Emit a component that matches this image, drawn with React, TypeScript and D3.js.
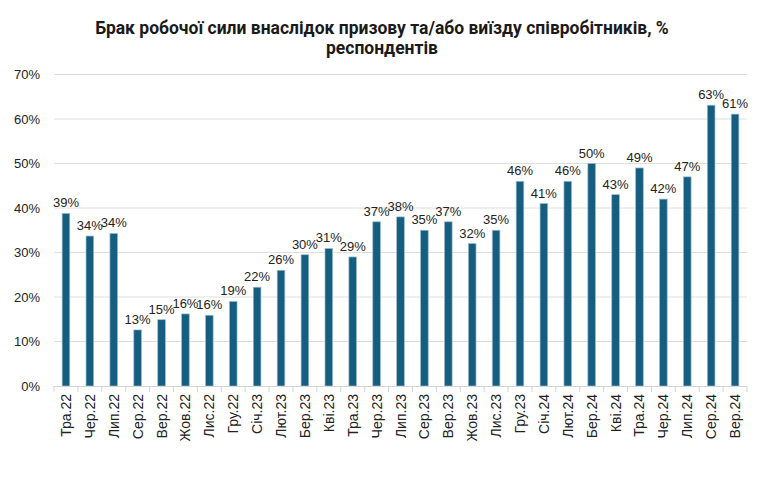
import { useEffect, useRef } from 'react';
import * as d3 from 'd3';

const titleLines = ['Брак робочої сили внаслідок призову та/або виїзду співробітників, %', 'респондентів'];

const months = [
  'Тра.22', 'Чер.22', 'Лип.22', 'Сер.22', 'Вер.22', 'Жов.22', 'Лис.22', 'Гру.22',
  'Січ.23', 'Лют.23', 'Бер.23', 'Кві.23', 'Тра.23', 'Чер.23', 'Лип.23', 'Сер.23',
  'Вер.23', 'Жов.23', 'Лис.23', 'Гру.23', 'Січ.24', 'Лют.24', 'Бер.24', 'Кві.24',
  'Тра.24', 'Чер.24', 'Лип.24', 'Сер.24', 'Вер.24',
];

const shares = [
  38.8, 33.7, 34.3, 12.6, 14.9, 16.2, 15.9, 19.0, 22.2, 26.0, 29.5, 30.9, 29.0, 36.9, 38.0, 35.0,
  36.9, 32.0, 35.0, 46.0, 41.0, 46.0, 50.0, 43.0, 49.0, 42.0, 47.0, 63.1, 61.1,
];

const yTicks = [0, 10, 20, 30, 40, 50, 60, 70];

const W = 764;
const H = 481;
const FONT = '"Liberation Sans", Arial, sans-serif';

const App = () => {
  const svgRef = useRef<SVGSVGElement>(null);

  useEffect(() => {
    if (!svgRef.current) return;
    const svg = d3.select(svgRef.current);
    svg.selectAll('*').remove();

    const x = d3.scaleBand<string>()
      .domain(months)
      .range([54, 747])
      .paddingInner(0.68)
      .paddingOuter(0.34);

    const y = d3.scaleLinear().domain([0, 70]).range([386, 74.5]);

    svg.append('rect').attr('width', W).attr('height', H).attr('fill', '#fff');

    // Title
    svg.append('g')
      .selectAll('text')
      .data(titleLines)
      .enter()
      .append('text')
      .attr('x', 382)
      .attr('y', (_, i) => 34 + i * 20)
      .attr('text-anchor', 'middle')
      .attr('font-family', 'Roboto, "Liberation Sans", sans-serif')
      .attr('font-weight', 'bold')
      .attr('font-size', '17.5px')
      .attr('fill', '#1a1a1a')
      .text(d => d);

    // Grid lines
    svg.append('g')
      .selectAll('line')
      .data(yTicks.filter(t => t > 0))
      .enter()
      .append('line')
      .attr('x1', 54)
      .attr('x2', 747)
      .attr('y1', d => y(d))
      .attr('y2', d => y(d))
      .attr('stroke', '#dedede')
      .attr('stroke-width', 1);

    // Y labels
    svg.append('g')
      .selectAll('text')
      .data(yTicks)
      .enter()
      .append('text')
      .attr('x', 40)
      .attr('y', d => y(d) + 4.5)
      .attr('text-anchor', 'end')
      .attr('font-family', FONT)
      .attr('font-size', '13px')
      .attr('fill', '#222')
      .text(d => `${d}%`);

    // Bars
    svg.append('g')
      .selectAll('rect')
      .data(shares)
      .enter()
      .append('rect')
      .attr('x', (_, i) => x(months[i])!)
      .attr('y', d => y(d))
      .attr('width', x.bandwidth())
      .attr('height', d => y(0) - y(d))
      .attr('fill', '#155e80')
      .attr('stroke', '#9dbccd')
      .attr('stroke-width', 0.7);

    // X axis line and ticks
    svg.append('line')
      .attr('x1', 54)
      .attr('x2', 747)
      .attr('y1', y(0) + 0.5)
      .attr('y2', y(0) + 0.5)
      .attr('stroke', '#d4d4d4')
      .attr('stroke-width', 1);

    const step = x.step();
    svg.append('g')
      .selectAll('line')
      .data(d3.range(months.length + 1))
      .enter()
      .append('line')
      .attr('x1', i => 54 + i * step)
      .attr('x2', i => 54 + i * step)
      .attr('y1', y(0))
      .attr('y2', y(0) + 6)
      .attr('stroke', '#d4d4d4')
      .attr('stroke-width', 1);

    // Category labels
    svg.append('g')
      .selectAll('text')
      .data(months)
      .enter()
      .append('text')
      .attr('transform', d => `translate(${x(d)! + x.bandwidth() / 2 + 5}, 394) rotate(-90)`)
      .attr('text-anchor', 'end')
      .attr('font-family', FONT)
      .attr('font-size', '14px')
      .attr('fill', '#222')
      .text(d => d);

    // Value labels
    svg.append('g')
      .selectAll('text')
      .data(shares)
      .enter()
      .append('text')
      .attr('x', (_, i) => x(months[i])! + x.bandwidth() / 2)
      .attr('y', d => y(d) - 6)
      .attr('text-anchor', 'middle')
      .attr('font-family', FONT)
      .attr('font-size', '13px')
      .attr('fill', '#222')
      .text(d => `${Math.round(d)}%`);
  }, []);

  return (
    <svg
      ref={svgRef}
      width={W}
      height={H}
      style={{ position: 'absolute', left: 0, top: 0, display: 'block' }}
    />
  );
};

export default App;
